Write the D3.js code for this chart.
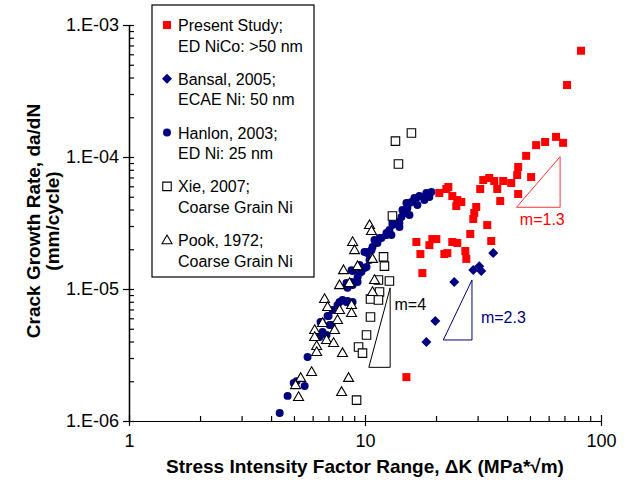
<!doctype html>
<html>
<head>
<style>
  body { margin: 0; background: #fff; }
  svg text { font-family: Arial, "Liberation Sans", sans-serif; }
</style>
<script src="https://d3js.org/d3.v7.min.js"></script>
</head>
<body>
<svg width="633" height="483"></svg>
<script>
// stress intensity range dK (MPa*sqrt(m)), crack growth rate (mm/cycle)
var present = [
  [20.65,5.34e-5],[22.12,5.72e-5],[22.55,5.93e-5],[23.44,5.06e-5],[24.61,4.72e-5],[25.59,4.56e-5],
  [24.37,4.25e-5],[29.61,4.18e-5],[29.04,3.77e-5],[28.76,3.39e-5],[32.96,3.05e-5],[27.93,2.61e-5],
  [30.78,5.72e-5],[31.70,6.69e-5],[33.61,6.93e-5],[35.29,6.58e-5],[36.34,5.72e-5],[37.41,4.64e-5],
  [38.52,6.58e-5],[41.65,6.35e-5],[44.15,7.30e-5],[44.57,8.40e-5],[48.18,1.02e-4],[16.51,2.27e-5],
  [17.17,1.84e-5],[18.74,2.15e-5],[19.29,2.39e-5],[20.06,2.39e-5],[21.69,1.84e-5],[22.33,1.87e-5],
  [23.44,2.27e-5],[24.61,2.23e-5],[26.61,1.94e-5],[26.87,1.69e-5],[34.27,2.31e-5],[17.50,1.32e-5],
  [14.98,2.15e-6],[44.57,5.24e-5],[82.3,6.38e-4],[71.8,3.51e-4],[64.5,1.42e-4],[69.1,1.28e-4],
  [57.97,1.30e-4],[53.11,1.23e-4],[50.58,7.05e-5]
];
var bansal = [
  [34.94,1.87e-5],[30.49,1.49e-5],[28.76,1.39e-5],[31.09,1.37e-5],[23.89,1.13e-5],[19.86,5.72e-6],[18.20,3.97e-6]
];
var hanlon = [
  [4.35,1.15e-6],[4.70,1.55e-6],[4.99,1.94e-6],[5.13,2.0e-6],[5.55,1.84e-6],[5.71,3.05e-6],[6.42,4.33e-6],
  [6.48,5.62e-6],[7.01,6.24e-6],[7.22,5.34e-6],[7.80,7.97e-6],[8.35,7.97e-6],[8.86,7.97e-6],[8.35,1.07e-5],
  [8.86,1.07e-5],[9.30,1.23e-5],[9.66,1.35e-5],[10.15,1.47e-5],[10.97,2.35e-5],[10.65,1.97e-5],[10.15,1.91e-5],
  [10.45,1.66e-5],[9.95,1.44e-5],[9.48,1.32e-5],[8.86,1.37e-5],[9.30,1.13e-5],[8.77,1.13e-5],[8.43,1.02e-5],
  [8.03,8.25e-6],[8.43,8.11e-6],[7.65,7.56e-6],[7.29,6.93e-6],[6.94,6.24e-6],[6.55,5.62e-6],[7.08,5.34e-6],
  [6.61,4.72e-6],[6.87,4.48e-6],[8.35,1.11e-5],[8.77,1.39e-5],[9.48,1.52e-5],[9.95,1.91e-5],[11.52,2.43e-5],
  [12.33,2.66e-5],[13.07,3.22e-5],[13.99,3.16e-5],[14.98,3.77e-5],[15.43,4.48e-5],[16.51,4.89e-5],[18.20,5.15e-5],
  [19.11,5.43e-5],[18.20,5.34e-5],[17.00,5.06e-5],[16.19,4.89e-5],[15.73,4.56e-5],[14.98,4.48e-5],[16.67,4.33e-5],
  [15.12,4.11e-5],[14.41,3.97e-5],[15.43,3.64e-5],[14.27,3.51e-5],[13.72,3.22e-5],[13.07,3.05e-5],[13.99,2.95e-5],
  [12.69,2.80e-5],[12.33,2.56e-5],[12.94,2.56e-5],[11.74,2.43e-5],[11.29,2.23e-5],[10.76,2.08e-5],[10.24,1.87e-5],
  [17.85,4.72e-5],[18.74,4.98e-5]
];
var xie = [
  [15.73,1.52e-4],[13.46,1.32e-4],[13.86,8.85e-5],[13.07,3.57e-5],[11.98,1.75e-5],[12.09,1.49e-5],
  [11.40,1.17e-5],[12.69,1.15e-5],[11.52,9.49e-6],[10.55,8.40e-6],[11.40,8.25e-6],[10.55,6.14e-6],
  [10.15,4.48e-6],[9.39,3.64e-6],[9.76,3.27e-6],[9.21,1.44e-6]
];
var pook = [
  [8.11,1.39e-5],[9.30,1.49e-5],[7.80,1.07e-5],[8.60,1.11e-5],[6.74,8.40e-6],[7.80,6.93e-6],[8.77,7.56e-6],
  [8.77,6.58e-6],[6.61,5.53e-6],[6.12,4.89e-6],[7.43,4.89e-6],[6.12,4.33e-6],[6.87,4.11e-6],[7.36,3.90e-6],
  [6.24,3.70e-6],[6.24,3.33e-6],[8.03,3.27e-6],[5.94,2.35e-6],[5.34,2.12e-6],[5.08,1.87e-6],[8.52,2.12e-6],
  [7.96,1.66e-6],[5.23,1.52e-6],[10.45,3.05e-5],[10.65,2.75e-5],[8.86,2.27e-5],[9.03,1.97e-5],[10.76,1.69e-5],
  [10.97,1.17e-5],[10.76,9.49e-6],[6.94,7.30e-6],[7.65,5.82e-6]
];

// slope triangles and their labels
var slopeM4 = [[10.38,2.55e-6],[12.78,1.02e-5],[12.78,2.55e-6]];
var slopeM23 = [[21.47,4.11e-6],[28.40,1.17e-5],[28.40,4.11e-6]];
var slopeM13 = [[43.85,4.16e-5],[67.1,1.005e-4],[67.1,4.16e-5]];
var slopeLabels = [
  {text: "m=4", at: [13.33,6.93e-6], color: "#000"},
  {text: "m=2.3", at: [30.99,5.53e-6], color: "#000080"},
  {text: "m=1.3", at: [45.3,3.05e-5], color: "#ff0000"}
];

var xTicks = [1, 10, 100];
var xTickLabels = ["1", "10", "100"];
var yTicks = [1e-6, 1e-5, 1e-4, 1e-3];
var yTickLabels = ["1.E-06", "1.E-05", "1.E-04", "1.E-03"];

var legendLabels = [
  ["Present Study;", "ED NiCo: >50 nm"],
  ["Bansal, 2005;", "ECAE Ni: 50 nm"],
  ["Hanlon, 2003;", "ED Ni: 25 nm"],
  ["Xie, 2007;", "Coarse Grain Ni"],
  ["Pook, 1972;", "Coarse Grain Ni"]
];

var svg = d3.select("svg"),
    plotL = 129, plotR = 601, plotT = 25, plotB = 421;

var x = d3.scaleLog().domain([1, 100]).range([plotL, plotR]);
var y = d3.scaleLog().domain([1e-6, 1e-3]).range([plotB, plotT]);

function minors(lo, hi) {
  var out = [];
  for (var p = lo; p < hi * 0.99; p *= 10)
    for (var k = 2; k < 10; k++) out.push(p * k);
  return out;
}

// axes
var ax = svg.append("g").attr("transform", "translate(0," + plotB + ")");
ax.call(d3.axisBottom(x).tickValues(xTicks).tickFormat(function(d, i) { return xTickLabels[i]; })
  .tickSizeInner(5).tickSizeOuter(0).tickPadding(8));
ax.append("g").call(d3.axisTop(x).tickValues(xTicks).tickFormat("").tickSize(6).tickSizeOuter(0));
ax.append("g").call(d3.axisTop(x).tickValues(minors(1, 100)).tickFormat("").tickSize(5).tickSizeOuter(0));

var ay = svg.append("g").attr("transform", "translate(" + plotL + ",0)");
ay.call(d3.axisLeft(y).tickValues(yTicks).tickFormat(function(d, i) { return yTickLabels[i]; })
  .tickSizeInner(6).tickSizeOuter(0).tickPadding(4));
ay.append("g").call(d3.axisRight(y).tickValues(yTicks).tickFormat("").tickSize(5).tickSizeOuter(0));
ay.append("g").call(d3.axisRight(y).tickValues(minors(1e-6, 1e-3)).tickFormat("").tickSize(5).tickSizeOuter(0));

svg.selectAll(".domain, .tick line").attr("stroke", "#000").attr("stroke-width", 1.2);
svg.selectAll(".tick text").attr("font-size", 18).attr("fill", "#000")
  .style("font-family", "Arial, 'Liberation Sans', sans-serif");

// axis titles
svg.append("text")
  .attr("x", 365).attr("y", 473)
  .attr("text-anchor", "middle").attr("font-size", 19).attr("font-weight", "bold")
  .text("Stress Intensity Factor Range, \u0394K (MPa*\u221am)");

var yt = svg.append("text")
  .attr("transform", "translate(40,221) rotate(-90)")
  .attr("text-anchor", "middle").attr("font-size", 19).attr("font-weight", "bold");
yt.append("tspan").attr("x", 0).attr("dy", 0).text("Crack Growth Rate, da/dN");
yt.append("tspan").attr("x", 0).attr("dy", 19).text("(mm/cycle)");

// marker shapes
function squarePath(s) { return "M" + (-s/2) + "," + (-s/2) + "h" + s + "v" + s + "h" + (-s) + "Z"; }
function diamondPath(s) { return "M0," + (-s/2) + "L" + (s/2) + ",0L0," + (s/2) + "L" + (-s/2) + ",0Z"; }
function trianglePath(w) {
  var h = w * 0.87;
  return "M0," + (-h * 0.6) + "L" + (w/2) + "," + (h * 0.4) + "L" + (-w/2) + "," + (h * 0.4) + "Z";
}

var series = [
  {data: present, path: squarePath(8), fill: "#ff0000", stroke: "none"},
  {data: bansal, path: diamondPath(10), fill: "#000080", stroke: "none"},
  {data: hanlon, path: d3.symbol(d3.symbolCircle, 50)(), fill: "#000080", stroke: "none"},
  {data: xie, path: squarePath(8.5), fill: "#fff", stroke: "#000"},
  {data: pook, path: trianglePath(10), fill: "#fff", stroke: "#000"}
];

// slope triangles
var tri = d3.line().x(function(d) { return x(d[0]); }).y(function(d) { return y(d[1]); });
[[slopeM4, "#000"], [slopeM23, "#000080"], [slopeM13, "#ff3333"]].forEach(function(s) {
  svg.append("path").attr("d", tri(s[0]) + "Z")
    .attr("fill", "none").attr("stroke", s[1]).attr("stroke-width", 1);
});
svg.selectAll(".slopeLabel").data(slopeLabels).enter().append("text")
  .attr("x", function(d) { return x(d.at[0]); })
  .attr("y", function(d) { return y(d.at[1]); })
  .attr("font-size", 16).attr("fill", function(d) { return d.color; })
  .text(function(d) { return d.text; });

series.forEach(function(s) {
  svg.append("g").selectAll("path").data(s.data).enter().append("path")
    .attr("transform", function(d) { return "translate(" + x(d[0]) + "," + y(d[1]) + ")"; })
    .attr("d", s.path)
    .attr("fill", s.fill)
    .attr("stroke", s.stroke).attr("stroke-width", 1.1);
});

// legend
var lg = svg.append("g");
lg.append("rect").attr("x", 152).attr("y", 5).attr("width", 162).attr("height", 272)
  .attr("fill", "#fff").attr("stroke", "#000").attr("stroke-width", 1.2);
legendLabels.forEach(function(lines, i) {
  var cy = 25 + i * 53.8;
  var s = series[i];
  lg.append("path").attr("transform", "translate(167," + cy + ")")
    .attr("d", s.path).attr("fill", s.fill).attr("stroke", s.stroke).attr("stroke-width", 1.1);
  lines.forEach(function(t, j) {
    lg.append("text").attr("x", 178).attr("y", cy + 6 + j * 20.5)
      .attr("font-size", 16).attr("fill", "#000").text(t);
  });
});
</script>
</body>
</html>
